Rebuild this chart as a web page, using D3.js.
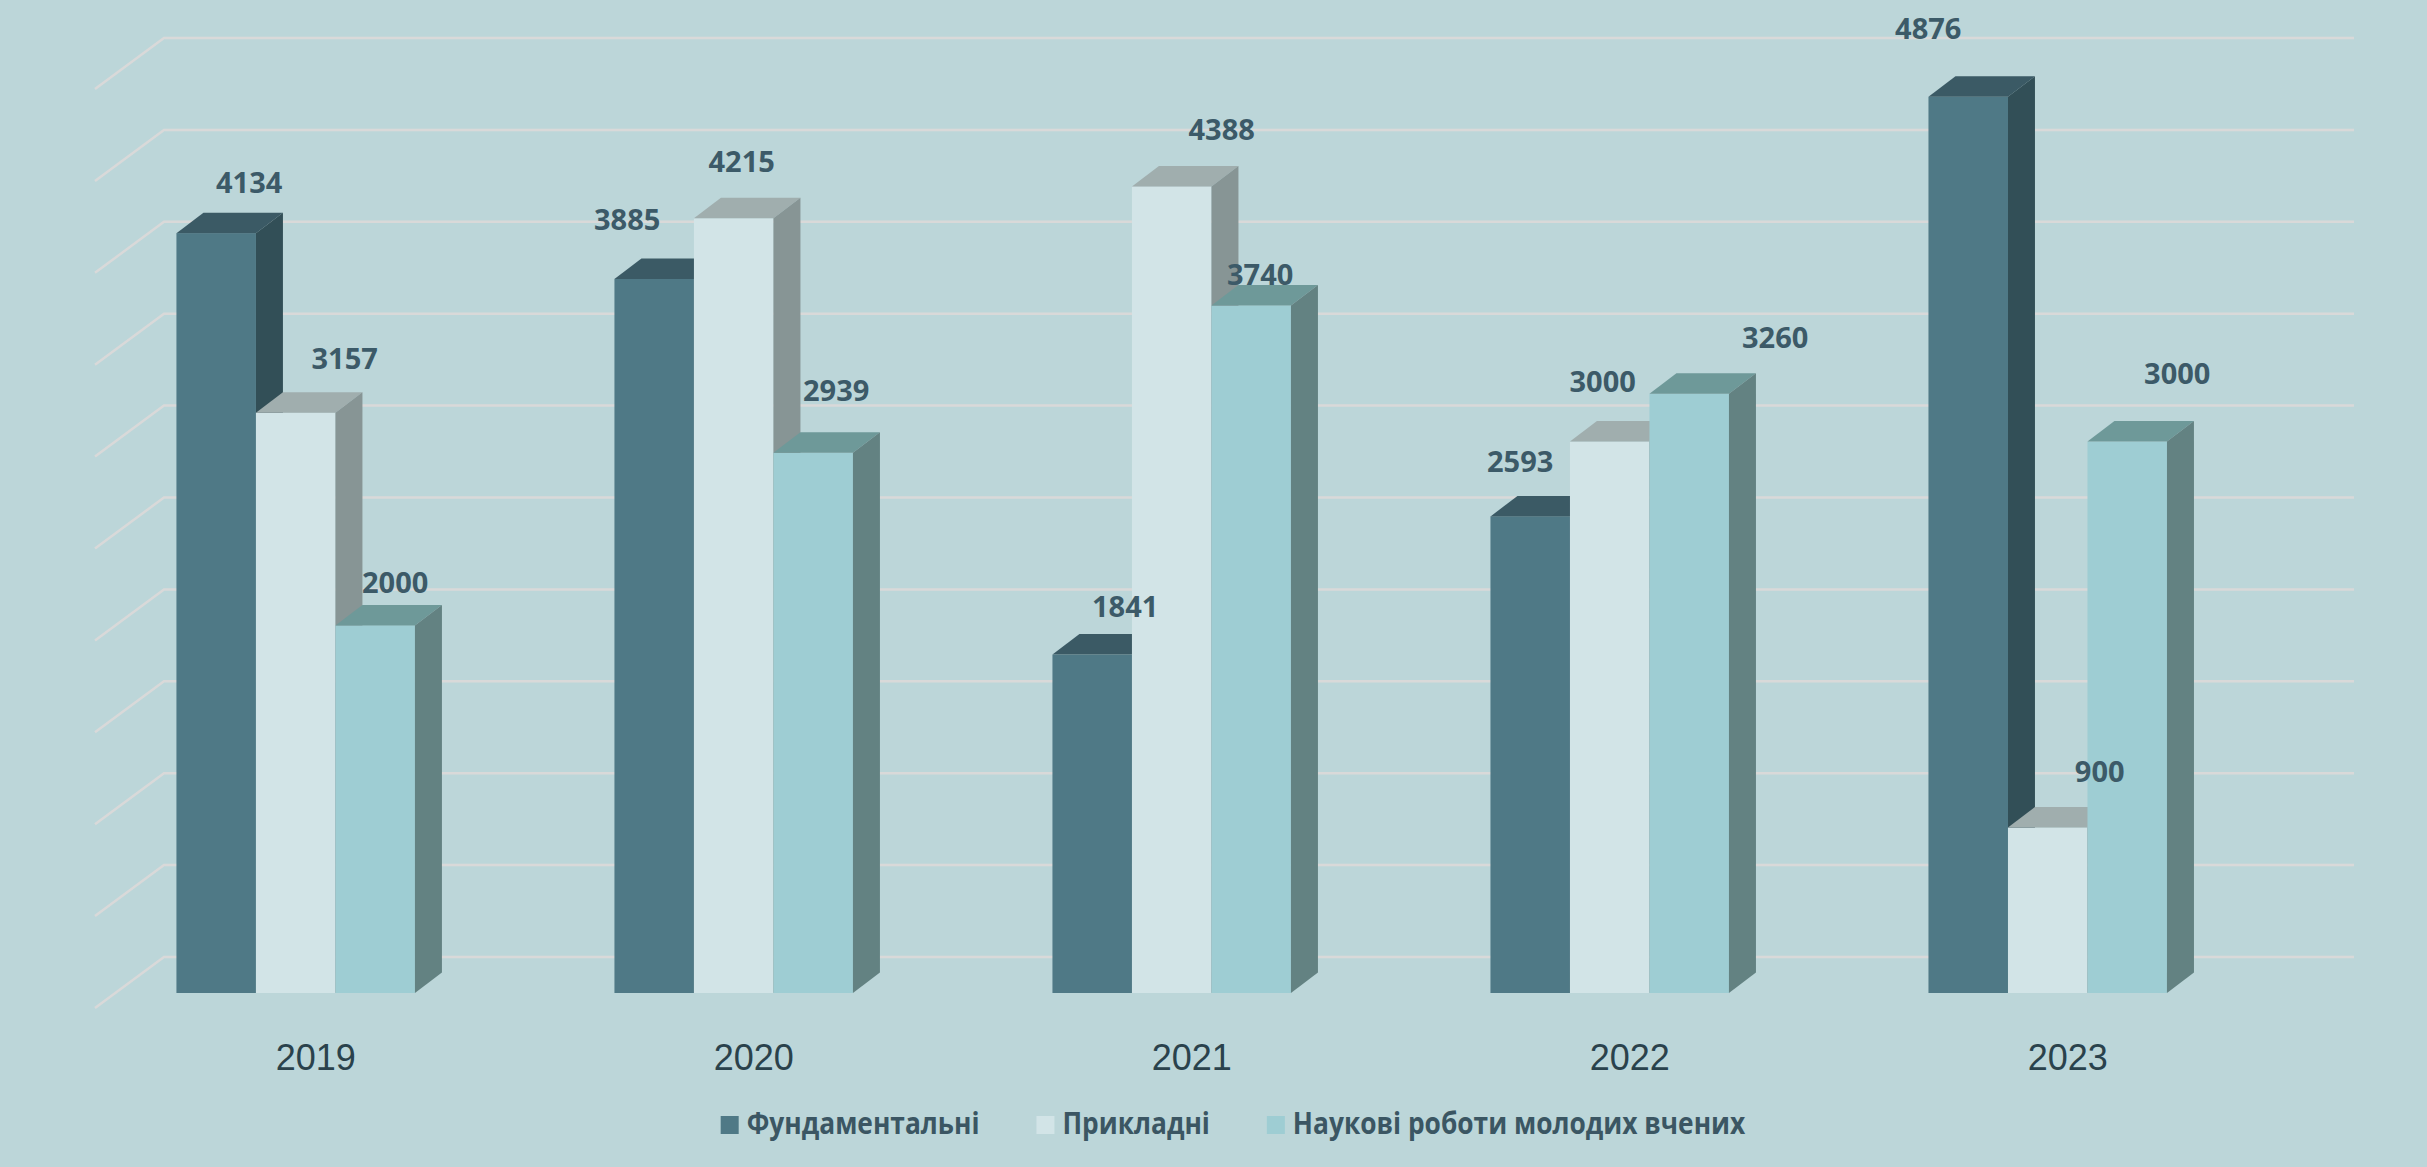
<!DOCTYPE html>
<html>
<head>
<meta charset="utf-8">
<script src="https://cdn.jsdelivr.net/npm/d3@7"></script>
<style>
  body { margin: 0; background: #bcd6d9; }
  svg { display: block; }
</style>
</head>
<body>
<div id="chart"></div>
<script>
(function(d3) {

var years = ['2019', '2020', '2021', '2022', '2023'];
var seriesNames = ['Фундаментальні', 'Прикладні', 'Наукові роботи молодих вчених'];
var fundamental = [4134, 3885, 1841, 2593, 4876];
var applied = [3157, 4215, 4388, 3000, 900];
var young = [2000, 2939, 3740, 3260, 3000];
var gridValues = d3.range(0, 5001, 500);

// the value labels were dragged by hand in the original, so each one gets a nudge [dx, dy]
var labelShift = [
  [[33, -40], [49, -44], [20, -32]],
  [[-27, -49], [8, -46], [23, -52]],
  [[33, -38], [50, -46], [9, -21]],
  [[-10, -44], [-7, -50], [86, -46]],
  [[-40, -58], [52, -46], [50, -58]]
];

var width = 2427;
var height = 1167;
var depthX = 27, depthY = 20.5;   // bar depth
var wallDy = 36;                  // back wall behind the bars
var floorX = 69, floorY = 51;     // the slanted bit of each grid line

var colors = [
  { front: '#4f7986', top: '#3b5a65', side: '#324f57' },
  { front: '#d2e4e7', top: '#a0aeae', side: '#879595' },
  { front: '#9ecdd3', top: '#6e9999', side: '#638282' }
];

var svg = d3.select('#chart')
  .append('svg')
  .attr('width', width)
  .attr('height', height);

svg.append('rect')
  .attr('width', width)
  .attr('height', height)
  .attr('fill', '#bcd6d9');

var x0 = d3.scaleBand()
  .domain(years)
  .range([76.7, 76.7 + 2190])
  .paddingInner(0.4555)
  .paddingOuter(0.2277);

var x1 = d3.scaleBand()
  .domain([0, 1, 2])
  .range([0, x0.bandwidth()]);

var y = d3.scaleLinear()
  .domain([0, 5000])
  .range([993, 74]);

var wallLeft = 164, wallRight = 2354;

// grid on the back wall
svg.append('g')
  .selectAll('path')
  .data(gridValues)
  .enter()
  .append('path')
  .attr('d', function(v) {
    var yy = y(v) - wallDy;
    return 'M' + (wallLeft - floorX) + ',' + (yy + floorY) +
      'L' + wallLeft + ',' + yy + 'L' + wallRight + ',' + yy;
  })
  .attr('fill', 'none')
  .attr('stroke', '#d9d9d9')
  .attr('stroke-width', 2.5);

var allSeries = [fundamental, applied, young];
var bars = [];
years.forEach(function(yr, i) {
  allSeries.forEach(function(s, j) {
    bars.push({ year: yr, i: i, j: j, value: s[i] });
  });
});

var bar = svg.append('g')
  .selectAll('g')
  .data(bars)
  .enter()
  .append('g');

function geom(d) {
  var bx = x0(d.year) + x1(d.j);
  var bw = x1.bandwidth();
  return { x: bx, w: bw, top: y(d.value), bottom: y(0) };
}

bar.append('rect')
  .attr('x', function(d) { return geom(d).x; })
  .attr('y', function(d) { return geom(d).top; })
  .attr('width', function(d) { return geom(d).w; })
  .attr('height', function(d) { var g = geom(d); return g.bottom - g.top; })
  .attr('fill', function(d) { return colors[d.j].front; });

bar.append('path')
  .attr('d', function(d) {
    var g = geom(d);
    return 'M' + g.x + ',' + g.top +
      'L' + (g.x + depthX) + ',' + (g.top - depthY) +
      'L' + (g.x + g.w + depthX) + ',' + (g.top - depthY) +
      'L' + (g.x + g.w) + ',' + g.top + 'Z';
  })
  .attr('fill', function(d) { return colors[d.j].top; });

bar.append('path')
  .attr('d', function(d) {
    var g = geom(d);
    return 'M' + (g.x + g.w) + ',' + g.top +
      'L' + (g.x + g.w + depthX) + ',' + (g.top - depthY) +
      'L' + (g.x + g.w + depthX) + ',' + (g.bottom - depthY) +
      'L' + (g.x + g.w) + ',' + g.bottom + 'Z';
  })
  .attr('fill', function(d) { return colors[d.j].side; });

// value labels
svg.append('g')
  .selectAll('text')
  .data(bars)
  .enter()
  .append('text')
  .attr('x', function(d) { var g = geom(d); return g.x + g.w / 2 + labelShift[d.i][d.j][0]; })
  .attr('y', function(d) { return geom(d).top + labelShift[d.i][d.j][1]; })
  .attr('text-anchor', 'middle')
  .style('font-family', '"Open Sans", sans-serif')
  .style('font-weight', 700)
  .style('font-size', '29px')
  .style('fill', '#3c5a68')
  .text(function(d) { return d.value; });

// category axis
var xAxis = svg.append('g')
  .attr('transform', 'translate(20,1044)')
  .call(d3.axisBottom(x0).tickSize(0).tickPadding(0));

xAxis.select('.domain').remove();
xAxis.selectAll('text')
  .style('font-family', '"Liberation Sans", Arial, sans-serif')
  .style('font-size', '36px')
  .style('fill', '#2a424c');

// legend
var legendSize = 18, legendGap = 8, itemGap = 57, squeeze = 0.85;
var legend = svg.append('g').attr('class', 'legend');

var item = legend.selectAll('g')
  .data(seriesNames)
  .enter()
  .append('g');

item.append('rect')
  .attr('width', legendSize)
  .attr('height', legendSize)
  .attr('y', -legendSize)
  .style('fill', function(d, i) { return colors[i].front; });

item.append('text')
  .attr('transform', 'translate(' + (legendSize + legendGap) + ',0) scale(' + squeeze + ',1)')
  .style('font-family', '"Open Sans", sans-serif')
  .style('font-weight', 700)
  .style('font-size', '31px')
  .style('fill', '#3b5663')
  .text(function(d) { return d; });

var offsets = [], pos = 0;
item.each(function() {
  var w = legendSize + legendGap + d3.select(this).select('text').node().getComputedTextLength() * squeeze;
  offsets.push(pos);
  pos += w + itemGap;
});
var total = pos - itemGap;
var startX = 1233 - total / 2;

item.attr('transform', function(d, i) {
  return 'translate(' + (startX + offsets[i]) + ',1134)';
});

})(window.d3);
</script>
</body>
</html>
